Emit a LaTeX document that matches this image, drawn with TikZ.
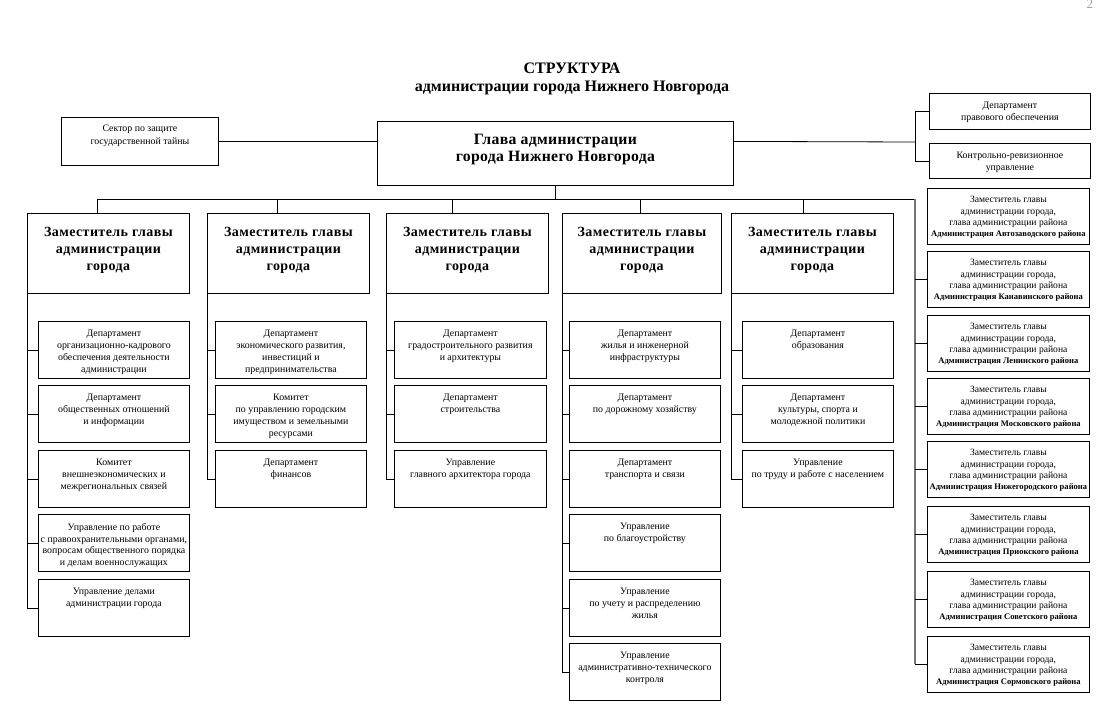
\documentclass[tikz,border=0pt]{standalone}
\usepackage{fontspec}
\setmainfont{Liberation Serif}
\newlength\pxu
\setlength\pxu{0.75pt}
\newcommand\fsm{\fontsize{7.4pt}{8.8pt}\selectfont}
\newcommand\fdep{\fontsize{10.5pt}{12.7pt}\selectfont\bfseries\addfontfeatures{LetterSpace=3}}
\newcommand\fhead{\fontsize{11.8pt}{12.8pt}\selectfont\bfseries\addfontfeatures{LetterSpace=2}}
\newcommand\fdis{\fontsize{7.2pt}{8.5pt}\selectfont}
\newcommand\fdisb{\fontsize{6.4pt}{8.5pt}\selectfont\bfseries}
\newcommand\mybox[7]{%
  \node[orgbox] (#1) at (#2,#3) {\parbox[t][#5\pxu][t]{#4\pxu}{\centering\vspace*{#6\pxu}#7\par}};}
\newcommand\dist[3]{%
  \mybox{#1}{927}{#2}{162}{56}{8}{\fdis Заместитель главы\\администрации города,\\глава администрации района\\{\fdisb Администрация #3 района}}}
\tikzset{
  orgbox/.style={draw, line width=0.6pt, inner sep=0pt, anchor=north west},
  conn/.style={line width=0.6pt},
  greyconn/.style={line width=1.2pt, draw=black!55},
}
\begin{document}
\begin{tikzpicture}[x=0.75pt,y=-0.75pt]
\useasboundingbox (0,0) rectangle (1106,722);
% title
\node[align=center, font=\fontsize{12pt}{13.5pt}\selectfont\bfseries] (title) at (572,79) {СТРУКТУРА\\администрации города Нижнего Новгорода};
\node[text=black!35, font=\fontsize{10pt}{12pt}\selectfont] (pnum) at (1090,4) {2};
% top row
\mybox{sector}{61}{117}{157}{48}{8}{\fontsize{7.4pt}{9.6pt}\selectfont Сектор по защите\\государственной тайны}
\mybox{head}{377}{121}{356}{64}{13}{\fhead Глава администрации\\города Нижнего Новгорода}
\mybox{legal}{929}{93}{161}{36}{9}{\fsm Департамент\\правового обеспечения}
\mybox{control}{929}{143}{161}{35}{9}{\fsm Контрольно-ревизионное\\управление}
% deputies
\mybox{d1}{27}{213}{162}{80}{14}{\fdep Заместитель главы\\администрации\\города}
\mybox{d2}{207}{213}{162}{80}{14}{\fdep Заместитель главы\\администрации\\города}
\mybox{d3}{386}{213}{162}{80}{14}{\fdep Заместитель главы\\администрации\\города}
\mybox{d4}{562}{213}{159}{80}{14}{\fdep Заместитель главы\\администрации\\города}
\mybox{d5}{731}{213}{162}{80}{14}{\fdep Заместитель главы\\администрации\\города}
% column 1
\mybox{a1}{38}{321}{151}{57}{9}{\fsm Департамент\\организационно-кадрового\\обеспечения деятельности\\администрации}
\mybox{a2}{38}{385}{151}{57}{9}{\fsm Департамент\\общественных отношений\\и информации}
\mybox{a3}{38}{450}{151}{57}{9}{\fsm Комитет\\внешнеэкономических и\\межрегиональных связей}
\mybox{a4}{38}{514}{151}{57}{9}{\fsm Управление по работе\\с правоохранительными органами,\\вопросам общественного порядка\\и делам военнослужащих}
\mybox{a5}{38}{579}{151}{57}{9}{\fsm Управление делами\\администрации города}
% column 2
\mybox{b1}{215}{321}{151}{57}{9}{\fsm Департамент\\экономического развития,\\инвестиций и\\предпринимательства}
\mybox{b2}{215}{385}{151}{57}{9}{\fsm Комитет\\по управлению городским\\имуществом и земельными\\ресурсами}
\mybox{b3}{215}{450}{151}{57}{9}{\fsm Департамент\\финансов}
% column 3
\mybox{c1}{394}{321}{152}{57}{9}{\fsm Департамент\\градостроительного развития\\и архитектуры}
\mybox{c2}{394}{385}{152}{57}{9}{\fsm Департамент\\строительства}
\mybox{c3}{394}{450}{152}{57}{9}{\fsm Управление\\главного архитектора города}
% column 4
\mybox{e1}{569}{321}{151}{57}{9}{\fsm Департамент\\жилья и инженерной\\инфраструктуры}
\mybox{e2}{569}{385}{151}{57}{9}{\fsm Департамент\\по дорожному хозяйству}
\mybox{e3}{569}{450}{151}{57}{9}{\fsm Департамент\\транспорта и связи}
\mybox{e4}{569}{514}{151}{57}{9}{\fsm Управление\\по благоустройству}
\mybox{e5}{569}{579}{151}{57}{9}{\fsm Управление\\по учету и распределению\\жилья}
\mybox{e6}{569}{643}{151}{57}{9}{\fsm Управление\\административно-технического\\контроля}
% column 5
\mybox{f1}{742}{321}{151}{57}{9}{\fsm Департамент\\образования}
\mybox{f2}{742}{385}{151}{57}{9}{\fsm Департамент\\культуры, спорта и\\молодежной политики}
\mybox{f3}{742}{450}{151}{57}{9}{\fsm Управление\\по труду и работе с населением}
% districts
\dist{r1}{188}{Автозаводского}
\dist{r2}{251}{Канавинского}
\dist{r3}{315}{Ленинского}
\dist{r4}{378}{Московского}
\dist{r5}{441}{Нижегородского}
\dist{r6}{506}{Приокского}
\dist{r7}{571}{Советского}
\dist{r8}{636}{Сормовского}
% connectors
\coordinate (busL) at (97,199);
\coordinate (busR) at (915,199);
\coordinate (br) at (915,142);
\coordinate (x2) at (277,199);
\coordinate (x3) at (452,199);
\coordinate (x4) at (640,199);
\coordinate (x5) at (803,199);
\draw[conn] (sector.east) -- (sector.east -| head.west);
\draw[conn] (head.east |- sector.east) -- (br);
\draw[conn] (legal.west) -- (legal.west -| br) -- (control.west -| br) -- (control.west);
\draw[conn] (head.south) -- (head.south |- busL);
\draw[conn] (busL) -- (busR);
\draw[conn] (busL) -- (busL |- d1.north);
\draw[conn] (x2) -- (x2 |- d2.north);
\draw[conn] (x3) -- (x3 |- d3.north);
\draw[conn] (x4) -- (x4 |- d4.north);
\draw[conn] (x5) -- (x5 |- d5.north);
% column verticals
\draw[conn] (d1.south west) -- (d1.south west |- a5.west) -- (a5.west);
\foreach \s in {a1,a2,a3,a4} \draw[conn] (d1.south west |- \s.west) -- (\s.west);
\draw[conn] (d2.south west) -- (d2.south west |- b3.west) -- (b3.west);
\foreach \s in {b1,b2} \draw[conn] (d2.south west |- \s.west) -- (\s.west);
\draw[conn] (d3.south west) -- (d3.south west |- c3.west) -- (c3.west);
\foreach \s in {c1,c2} \draw[conn] (d3.south west |- \s.west) -- (\s.west);
\draw[conn] (d4.south west) -- (d4.south west |- e6.west) -- (e6.west);
\foreach \s in {e1,e2,e3,e4,e5} \draw[conn] (d4.south west |- \s.west) -- (\s.west);
\draw[conn] (d5.south west) -- (d5.south west |- f3.west) -- (f3.west);
\foreach \s in {f1,f2} \draw[conn] (d5.south west |- \s.west) -- (\s.west);
% district column
\draw[greyconn] (busR) -- (busR |- r8.west);
\foreach \s in {r2,r3,r4,r5,r6,r7,r8} \draw[conn] (busR |- \s.west) -- (\s.west);
\end{tikzpicture}
\end{document}
